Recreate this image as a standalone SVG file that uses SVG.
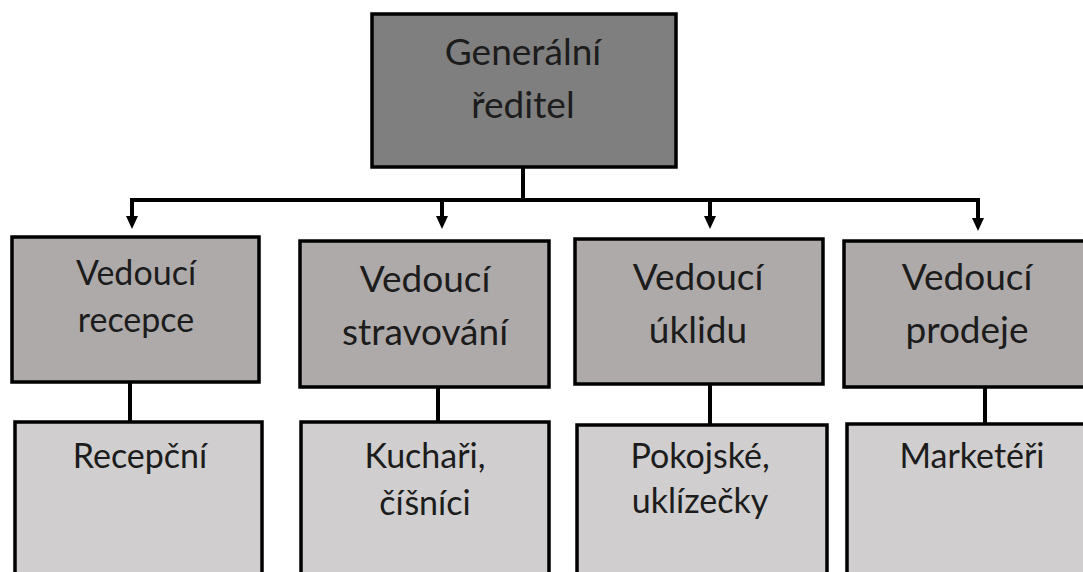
<svg xmlns="http://www.w3.org/2000/svg" width="1083" height="572" viewBox="0 0 1083 572">
<style>
.box{stroke:#000;stroke-width:3.5}
.top{fill:#7f7f7f}
.mid{fill:#aeaaaa}
.low{fill:#d0cece}
.t{font-family:Lato,"Open Sans",sans-serif;font-size:37px;fill:#1c1c1c;text-anchor:middle}
.s{font-size:34px}
.c{fill:none;stroke:#000;stroke-width:4}
</style>
<defs>
<marker id="arr" markerUnits="userSpaceOnUse" markerWidth="14" markerHeight="14" refX="4" refY="7" orient="auto" viewBox="0 0 14 14">
<path d="M0,1 L13,7 L0,13 Z" fill="#000"/>
</marker>
</defs>
<rect width="1083" height="572" fill="#fff"/>
<g id="connectors">
<path class="c" d="M523,167 V200"/>
<path class="c" d="M130,200 H980"/>
<path class="c" d="M132,200 V220" marker-end="url(#arr)"/>
<path class="c" d="M442,200 V220" marker-end="url(#arr)"/>
<path class="c" d="M710,200 V220" marker-end="url(#arr)"/>
<path class="c" d="M978,200 V222" marker-end="url(#arr)"/>
<path class="c" d="M130,382 V422"/>
<path class="c" d="M438,387 V422"/>
<path class="c" d="M710,384 V425"/>
<path class="c" d="M985,387 V424"/>
</g>
<g id="n-gen">
<rect class="box top" x="372" y="14" width="304" height="153"/>
<text class="t" x="523" y="65">Generální</text>
<text class="t" x="523" y="118">ředitel</text>
</g>
<g id="n-vrec">
<rect class="box mid" x="12" y="237" width="247" height="145"/>
<text class="t s" x="136" y="285">Vedoucí</text>
<text class="t s" x="136" y="332">recepce</text>
</g>
<g id="n-vstr">
<rect class="box mid" x="300" y="241" width="249" height="146"/>
<text class="t" x="425" y="292">Vedoucí</text>
<text class="t" x="425" y="345">stravování</text>
</g>
<g id="n-vukl">
<rect class="box mid" x="575" y="239" width="248" height="145"/>
<text class="t" x="698" y="290">Vedoucí</text>
<text class="t" x="698" y="343">úklidu</text>
</g>
<g id="n-vpro">
<rect class="box mid" x="844" y="241" width="250" height="146"/>
<text class="t" x="967" y="290">Vedoucí</text>
<text class="t" x="967" y="343">prodeje</text>
</g>
<g id="n-rec">
<rect class="box low" x="15" y="422" width="247" height="170"/>
<text class="t s" x="140" y="468">Recepční</text>
</g>
<g id="n-kuch">
<rect class="box low" x="301" y="422" width="248" height="170"/>
<text class="t s" x="425" y="468">Kuchaři,</text>
<text class="t s" x="425" y="515">číšníci</text>
</g>
<g id="n-pok">
<rect class="box low" x="577" y="425" width="250" height="170"/>
<text class="t s" x="700" y="468">Pokojské,</text>
<text class="t s" x="700" y="513">uklízečky</text>
</g>
<g id="n-mark">
<rect class="box low" x="847" y="424" width="250" height="170"/>
<text class="t s" x="972" y="468">Marketéři</text>
</g>
</svg>
